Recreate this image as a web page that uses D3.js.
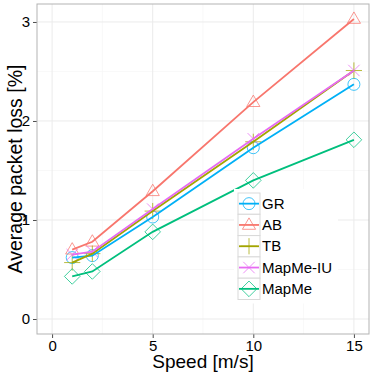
<!DOCTYPE html>
<html>
<head>
<meta charset="utf-8">
<script src="https://cdn.jsdelivr.net/npm/d3@7"></script>
<style>
  html, body { margin: 0; padding: 0; background: #fff; }
  svg { display: block; font-family: "Liberation Sans", Arial, sans-serif; }
</style>
</head>
<body>
<svg id="chart" width="374" height="374"></svg>
<script>
// speeds on the x axis
const speeds = [1, 2, 5, 10, 15];

const seriesNames = ['GR', 'AB', 'TB', 'MapMe-IU', 'MapMe'];
const grLoss      = [0.62, 0.64, 1.03, 1.73, 2.37];
const abLoss      = [0.70, 0.78, 1.29, 2.19, 3.03];
const tbLoss      = [0.57, 0.66, 1.09, 1.79, 2.51];
const mapmeIuLoss = [0.65, 0.68, 1.11, 1.82, 2.51];
const mapmeLoss   = [0.43, 0.48, 0.88, 1.40, 1.81];

const xTicks = [0, 5, 10, 15];
const yTicks = [0, 1, 2, 3];

const panel = { left: 37, right: 369, top: 4, bottom: 334 };

const colors = {
  'GR': '#00B0F6', 'AB': '#F8766D', 'TB': '#A3A500',
  'MapMe-IU': '#E76BF3', 'MapMe': '#00BF7D'
};
const shapes = {
  'GR': 'circle', 'AB': 'triangle', 'TB': 'plus',
  'MapMe-IU': 'cross', 'MapMe': 'diamond'
};

const series = [
  { name: 'GR', values: grLoss },
  { name: 'AB', values: abLoss },
  { name: 'TB', values: tbLoss },
  { name: 'MapMe-IU', values: mapmeIuLoss },
  { name: 'MapMe', values: mapmeLoss },
];

// ggplot-like 5% expansion around [0,15] and [0,max]
const yMax = d3.max(series, s => d3.max(s.values));
const x = d3.scaleLinear().domain([-0.75, 15.75]).range([panel.left, panel.right]);
const y = d3.scaleLinear().domain([-0.05 * yMax, yMax * 1.05]).range([panel.bottom, panel.top]);

const svg = d3.select('#chart');

// background grid
const grid = svg.append('g');
const minorX = [2.5, 7.5, 12.5], minorY = [0.5, 1.5, 2.5];
grid.selectAll('.mx').data(minorX).join('line')
  .attr('x1', d => x(d)).attr('x2', d => x(d))
  .attr('y1', panel.top).attr('y2', panel.bottom)
  .attr('stroke', '#f4f4f4').attr('stroke-width', 0.6);
grid.selectAll('.my').data(minorY).join('line')
  .attr('y1', d => y(d)).attr('y2', d => y(d))
  .attr('x1', panel.left).attr('x2', panel.right)
  .attr('stroke', '#f4f4f4').attr('stroke-width', 0.6);
grid.selectAll('.gx').data(xTicks).join('line')
  .attr('x1', d => x(d)).attr('x2', d => x(d))
  .attr('y1', panel.top).attr('y2', panel.bottom)
  .attr('stroke', '#ebebeb').attr('stroke-width', 1);
grid.selectAll('.gy').data(yTicks).join('line')
  .attr('y1', d => y(d)).attr('y2', d => y(d))
  .attr('x1', panel.left).attr('x2', panel.right)
  .attr('stroke', '#ebebeb').attr('stroke-width', 1);

// axes
const xAxis = svg.append('g')
  .attr('transform', `translate(0,${panel.bottom})`)
  .call(d3.axisBottom(x).tickValues(xTicks).tickFormat(d3.format('d')).tickSize(4).tickPadding(2));
const yAxis = svg.append('g')
  .attr('transform', `translate(${panel.left},0)`)
  .call(d3.axisLeft(y).tickValues(yTicks).tickFormat(d3.format('d')).tickSize(4).tickPadding(3));
[xAxis, yAxis].forEach(a => {
  a.select('.domain').remove();
  a.selectAll('line').attr('stroke', '#4d4d4d');
  a.selectAll('text').attr('fill', '#000').style('font-size', '15px')
    .style('font-family', '"Liberation Sans", Arial, sans-serif');
});

// shape path for open markers
function shapePath(kind, cx, cy, r) {
  const p = d3.path();
  if (kind === 'circle') {
    p.moveTo(cx + r, cy); p.arc(cx, cy, r, 0, 2 * Math.PI);
  } else if (kind === 'triangle') {
    const h = r * 1.9;
    p.moveTo(cx, cy - h * 0.62); p.lineTo(cx + r * 1.1, cy + h * 0.38);
    p.lineTo(cx - r * 1.1, cy + h * 0.38); p.closePath();
  } else if (kind === 'diamond') {
    const d = r * 1.3;
    p.moveTo(cx, cy - d); p.lineTo(cx + d, cy); p.lineTo(cx, cy + d);
    p.lineTo(cx - d, cy); p.closePath();
  } else if (kind === 'plus') {
    const d = r * 1.35;
    p.moveTo(cx - d, cy); p.lineTo(cx + d, cy);
    p.moveTo(cx, cy - d); p.lineTo(cx, cy + d);
  } else if (kind === 'cross') {
    const d = r * 0.95;
    p.moveTo(cx - d, cy - d); p.lineTo(cx + d, cy + d);
    p.moveTo(cx - d, cy + d); p.lineTo(cx + d, cy - d);
  }
  return p.toString();
}

const R = 6;
const line = d3.line().x(d => x(d[0])).y(d => y(d[1]));

// points first (semi-transparent), then lines
const pts = svg.append('g');
series.forEach(s => {
  pts.selectAll(null).data(speeds.map((v, i) => [v, s.values[i]])).join('path')
    .attr('d', d => shapePath(shapes[s.name], x(d[0]), y(d[1]), R))
    .attr('fill', 'none').attr('stroke', colors[s.name])
    .attr('stroke-width', 1).attr('opacity', 0.75);
});
const lines = svg.append('g');
series.forEach(s => {
  lines.append('path')
    .datum(speeds.map((v, i) => [v, s.values[i]]))
    .attr('d', line)
    .attr('fill', 'none').attr('stroke', colors[s.name])
    .attr('stroke-width', 1.8);
});

// panel border
svg.append('rect')
  .attr('x', panel.left).attr('y', panel.top)
  .attr('width', panel.right - panel.left).attr('height', panel.bottom - panel.top)
  .attr('fill', 'none').attr('stroke', '#b3b3b3').attr('stroke-width', 1);

// axis titles
svg.append('text')
  .attr('x', (panel.left + panel.right) / 2).attr('y', 368)
  .attr('text-anchor', 'middle').style('font-size', '19px').text('Speed [m/s]');
svg.append('text')
  .attr('transform', `translate(22,${(panel.top + panel.bottom) / 2}) rotate(-90)`)
  .attr('text-anchor', 'middle').style('font-size', '19.5px').text('Average packet loss [%]');

// legend
const lg = svg.append('g').attr('transform', 'translate(234,189)');
const keyW = 22, keyH = 21.3;
lg.append('rect').attr('x', 0).attr('y', 0)
  .attr('width', 104).attr('height', keyH * seriesNames.length + 8)
  .attr('fill', '#fff');
seriesNames.forEach((name, i) => {
  const g = lg.append('g').attr('transform', `translate(4,${4 + i * keyH})`);
  g.append('rect').attr('width', keyW).attr('height', keyH)
    .attr('fill', '#fff').attr('stroke', '#d9d9d9').attr('stroke-width', 1);
  g.append('path').attr('d', shapePath(shapes[name], keyW / 2, keyH / 2, R))
    .attr('fill', 'none').attr('stroke', colors[name]).attr('stroke-width', 1).attr('opacity', 0.75);
  g.append('line').attr('x1', 1).attr('x2', keyW - 1)
    .attr('y1', keyH / 2).attr('y2', keyH / 2)
    .attr('stroke', colors[name]).attr('stroke-width', 1.8);
  g.append('text').attr('x', keyW + 2).attr('y', keyH / 2 + 5)
    .style('font-size', '15px').text(name);
});
</script>
</body>
</html>
